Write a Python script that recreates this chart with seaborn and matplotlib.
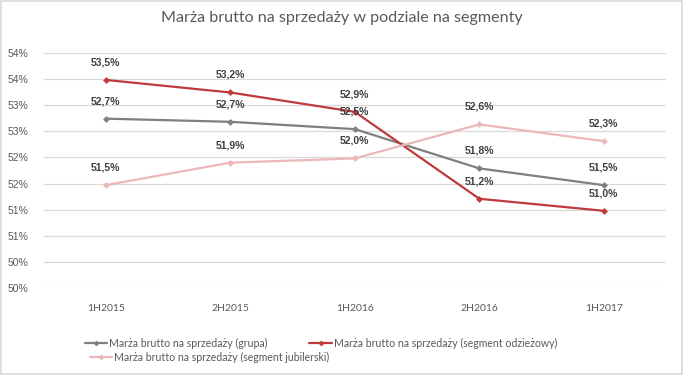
import math
import pandas as pd
import seaborn as sns
import matplotlib.pyplot as plt
from matplotlib.lines import Line2D
from matplotlib.patches import Rectangle

# Dane z wykresu (marża brutto, %)
okresy = ["1H2015", "2H2015", "1H2016", "2H2016", "1H2017"]
marza_grupa = [52.74, 52.68, 52.54, 51.79, 51.47]
marza_odziez = [53.48, 53.24, 52.87, 51.21, 50.98]
marza_jubiler = [51.47, 51.90, 51.98, 52.63, 52.31]

serie = ["Marża brutto na sprzedaży (grupa)",
         "Marża brutto na sprzedaży (segment odzieżowy)",
         "Marża brutto na sprzedaży (segment jubilerski)"]
kolory = ["#7f7f7f", "#c0393b", "#ebb7b8"]

y_ticks = [49.5, 50.0, 50.5, 51.0, 51.5, 52.0, 52.5, 53.0, 53.5, 54.0]

df = pd.DataFrame({
    "okres": okresy * 3,
    "marza": marza_grupa + marza_odziez + marza_jubiler,
    "seria": [s for s in serie for _ in okresy],
})

sns.set_style("white")

fig = plt.figure(figsize=(6.83, 3.75), dpi=100)
ax = fig.add_axes([0.0637, 0.2312, 0.9115, 0.6283])

sns.lineplot(data=df, x="okres", y="marza", hue="seria", palette=kolory,
             style="seria", markers=["D", "D", "D"], dashes=False,
             markersize=3.5, markeredgewidth=0, linewidth=1.6,
             sort=False, legend=False, ax=ax)

ax.set_xlim(-0.5, 4.5)
ax.set_ylim(49.5, 54.0)
ax.set_yticks(y_ticks)
# Excel zaokrągla w górę (53,5 -> 54)
ax.set_yticklabels([f"{math.floor(v + 0.5)}%" for v in y_ticks],
                   fontfamily="Liberation Sans", fontsize=7.5, color="#595959")
ax.tick_params(axis="y", length=0, pad=11)
ax.tick_params(axis="x", length=0, pad=11, labelsize=7.5, labelcolor="#595959")
for t in ax.get_xticklabels():
    t.set_fontfamily("Lato")
ax.set_xlabel("")
ax.set_ylabel("")
ax.grid(axis="y", color="#d9d9d9", linewidth=0.9)
ax.set_axisbelow(True)
for s in ax.spines.values():
    s.set_visible(False)

# Etykiety danych
for wartosci in [marza_grupa, marza_odziez, marza_jubiler]:
    for i, v in enumerate(wartosci):
        ax.annotate(f"{v:.1f}%".replace(".", ","), (i, v),
                    xytext=(0, 9), textcoords="offset points",
                    ha="center", va="bottom", fontsize=7.5,
                    fontweight="bold", color="#404040",
                    fontfamily="Liberation Sans")

fig.text(0.5, 0.952, "Marża brutto na sprzedaży w podziale na segmenty",
         ha="center", va="center", fontsize=11.6, color="#595959",
         fontfamily="Lato")

uchwyty = [Line2D([], [], color=k, marker="D", markersize=3, markeredgewidth=0,
                  linewidth=1.6) for k in kolory]
leg_kw = dict(frameon=False, handlelength=2.1, handletextpad=0.2,
              borderaxespad=0, borderpad=0, labelcolor="#595959",
              prop={"family": "Lato", "size": 7.6})
leg1 = fig.legend(uchwyty[:2], serie[:2], loc="center left",
                  bbox_to_anchor=(85 / 683, 1 - 343 / 375), ncol=2,
                  columnspacing=3.95, **leg_kw)
leg2 = fig.legend(uchwyty[2:], serie[2:], loc="center left",
                  bbox_to_anchor=(90 / 683, 1 - 357 / 375), **leg_kw)

fig.patches.append(Rectangle((0.002, 0.003), 0.996, 0.994, transform=fig.transFigure,
                             fill=False, edgecolor="#d9d9d9", linewidth=1.2))

fig.savefig("out.png", dpi=100)
